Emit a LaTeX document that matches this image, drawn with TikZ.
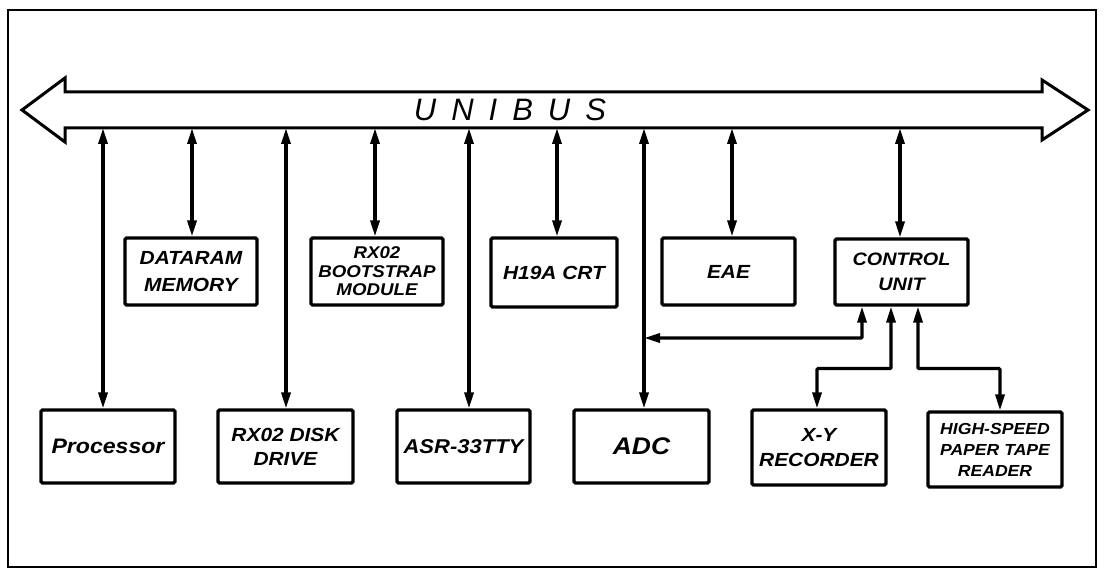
\documentclass[tikz,border=0pt]{standalone}
\usepackage{fontspec}
\setmainfont{Liberation Sans}
\newfontfamily\handfont[FakeStretch=1.1]{Liberation Sans}
\usetikzlibrary{arrows.meta,calc}
\begin{document}
\begin{tikzpicture}[x=1pt,y=-1pt,
  frame/.style={line width=2.6pt},
  bus/.style={line width=3pt,line join=miter},
  box/.style={draw,line width=3.2pt,rounded corners=1.5pt,align=center,
    font=\handfont\bfseries\itshape\fontsize{19}{25}\selectfont,inner sep=1pt},
  link/.style={line width=3.2pt,{Triangle[length=16pt,width=9pt]}-{Triangle[length=16pt,width=9pt]}},
]
\useasboundingbox (0,0) rectangle (1104,569);
\draw[frame] (8,10) rectangle (1096,567);
% bus
\draw[bus] (22,110) -- (65,78) -- (65,92) -- (1042,92) -- (1042,80) -- (1088,110)
  -- (1042,140) -- (1042,128) -- (65,128) -- (65,142) -- cycle;
\node (unibus) at (510,110) {\itshape\fontsize{31}{32}\selectfont U\hspace{15pt}N\hspace{15pt}I\hspace{15pt}B\hspace{15pt}U\hspace{15pt}S};
% bus taps
\foreach \n/\x in {t1/103,t2/192,t3/286,t4/375,t5/469,t6/557,t7/644,t8/732,t9/900}
  \coordinate (\n) at (\x,128);
% upper row
\node[box,minimum width=132pt,minimum height=67pt,font=\handfont\bfseries\itshape\fontsize{19}{27}\selectfont] (dataram) at (191,271.5) {DATARAM\\MEMORY};
\node[box,minimum width=132pt,minimum height=67pt,font=\handfont\bfseries\itshape\fontsize{17}{18.5}\selectfont] (boot) at (377,271.5) {RX02\\BOOTSTRAP\\MODULE};
\node[box,minimum width=126pt,minimum height=69pt] (h19a) at (554,272.5) {H19A CRT};
\node[box,minimum width=133pt,minimum height=67pt] (eae) at (728.5,271.5) {EAE};
\node[box,minimum width=133pt,minimum height=66pt,font=\handfont\bfseries\itshape\fontsize{18}{25}\selectfont] (ctrl) at (901.5,272) {CONTROL\\UNIT};
% lower row
\node[box,minimum width=134pt,minimum height=73pt,font=\handfont\bfseries\itshape\fontsize{21}{22}\selectfont] (proc) at (108,446.5) {Processor};
\node[box,minimum width=135pt,minimum height=73pt,font=\handfont\bfseries\itshape\fontsize{19}{24}\selectfont] (disk) at (285.5,446.5) {RX02 DISK\\DRIVE};
\node[box,minimum width=133pt,minimum height=73pt,font=\handfont\bfseries\itshape\fontsize{20}{22}\selectfont] (asr) at (463.5,446.5) {ASR-33TTY};
\node[box,minimum width=135pt,minimum height=73pt,font=\handfont\bfseries\itshape\fontsize{24}{26}\selectfont] (adc) at (641.5,446.5) {ADC};
\node[box,minimum width=134pt,minimum height=75pt] (xy) at (819,447.5) {X-Y\\RECORDER};
\node[box,minimum width=134pt,minimum height=75pt,font=\handfont\bfseries\itshape\fontsize{16}{21}\selectfont] (hs) at (995,449.5) {HIGH-SPEED\\PAPER TAPE\\READER};
% vertical links
\draw[link] (t1) -- (t1 |- proc.north);
\draw[link] (t2) -- (t2 |- dataram.north);
\draw[link] (t3) -- (t3 |- disk.north);
\draw[link] (t4) -- (t4 |- boot.north);
\draw[link] (t5) -- (t5 |- asr.north);
\draw[link] (t6) -- (t6 |- h19a.north);
\draw[link] (t7) -- (t7 |- adc.north);
\draw[link] (t8) -- (t8 |- eae.north);
\draw[link] (t9) -- (t9 |- ctrl.north);
% control unit links
\coordinate (j1) at (644,338);
\draw[link,rounded corners=1pt] ([xshift=-39.5pt]ctrl.south) |- (j1);
\draw[link,rounded corners=1pt] ([xshift=-10.5pt]ctrl.south) -- ++(0,62) -| ([xshift=-2pt]xy.north);
\draw[link,rounded corners=1pt] ([xshift=16.5pt]ctrl.south) -- ++(0,62) -| ([xshift=5pt]hs.north);
\end{tikzpicture}
\end{document}
